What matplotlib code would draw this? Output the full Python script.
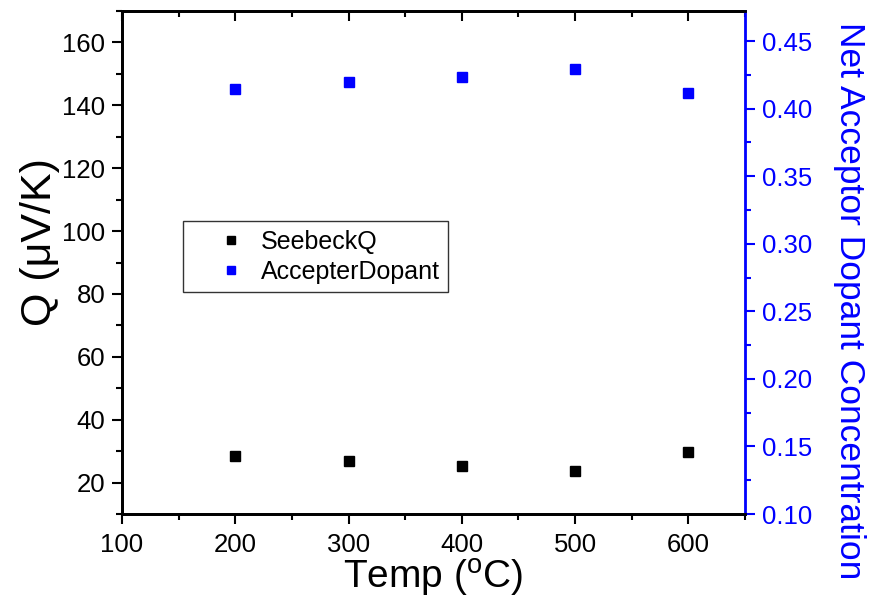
import matplotlib
matplotlib.use("Agg")
import matplotlib.pyplot as plt
from matplotlib.ticker import MultipleLocator, FormatStrFormatter

# data
temps = [200, 300, 400, 500, 600]
seebeck_q = [28.6, 26.9, 25.3, 23.6, 29.6]
acceptor_dopant = [0.4143, 0.4194, 0.4236, 0.4291, 0.4117]

plt.rcParams['font.family'] = ['Liberation Sans', 'DejaVu Sans']
plt.rcParams['mathtext.fontset'] = 'custom'
plt.rcParams['mathtext.rm'] = 'Liberation Sans'

fig = plt.figure(figsize=(8.71, 6.07), dpi=100)
ax = fig.add_axes([122 / 871, 1 - 514 / 607, (745 - 122) / 871, (514 - 11) / 607])
ax2 = ax.twinx()

# Plot
h1, = ax.plot(temps, seebeck_q, 's', color='black', ms=7.2, label='SeebeckQ')
h2, = ax2.plot(temps, acceptor_dopant, 's', color='blue', ms=7.2, label='AccepterDopant')

ax.set_xlim(100, 650)
ax.set_ylim(10, 170)
ax2.set_ylim(0.10, 0.4722)

ax.xaxis.set_major_locator(MultipleLocator(100))
ax.xaxis.set_minor_locator(MultipleLocator(50))
ax.yaxis.set_minor_locator(MultipleLocator(10))
ax.set_yticks(range(20, 161, 20))
ax2.yaxis.set_major_locator(MultipleLocator(0.05))
ax2.yaxis.set_minor_locator(MultipleLocator(0.025))
ax2.yaxis.set_major_formatter(FormatStrFormatter('%.2f'))

ax.tick_params(axis='both', which='major', direction='out', length=7, width=1.5, labelsize=18.5)
ax.tick_params(axis='both', which='minor', direction='out', length=4, width=1.5)
ax.tick_params(axis='x', which='major', pad=7)
ax.tick_params(axis='y', which='major', pad=5)
ax.tick_params(axis='x', which='both', top=True)
ax.tick_params(axis='y', which='both', right=False)
ax2.tick_params(axis='y', which='major', direction='out', length=7, width=1.5, labelsize=18.5,
                colors='blue', pad=5)
ax2.tick_params(axis='y', which='minor', direction='out', length=4, width=1.5, colors='blue')

for s in ['left', 'bottom', 'top']:
    ax.spines[s].set_linewidth(2)
    ax2.spines[s].set_linewidth(2)
ax2.spines['right'].set_color('blue')
ax2.spines['right'].set_linewidth(2)

# top axis ticks point inwards
for t in ax.xaxis.get_major_ticks() + ax.xaxis.get_minor_ticks():
    t.tick2line.set_marker(3)

ax.set_xlabel('Temp ($\\mathregular{^o}$C)', fontsize=28, labelpad=0)
ax.set_ylabel('Q (\u03bcV/K)', fontsize=31)
ax.yaxis.set_label_coords(-0.0995, 0.541)
ax2.set_ylabel('Net Acceptor Dopant Concentration', fontsize=25.5, color='blue',
               rotation=270, va='center')
ax2.yaxis.set_label_coords(1.1685, 0.425)

leg = ax.legend([h1, h2], ['SeebeckQ', 'AccepterDopant'], loc='upper left',
                bbox_to_anchor=(0.098, 0.582), borderaxespad=0, fontsize=18,
                frameon=True, fancybox=False, handletextpad=-0.35, borderpad=0.35,
                labelspacing=0.22, handlelength=3.1, markerscale=0.85)
leg.get_frame().set_edgecolor('black')
leg.get_frame().set_linewidth(1)

fig.savefig('out.png', dpi=100)
